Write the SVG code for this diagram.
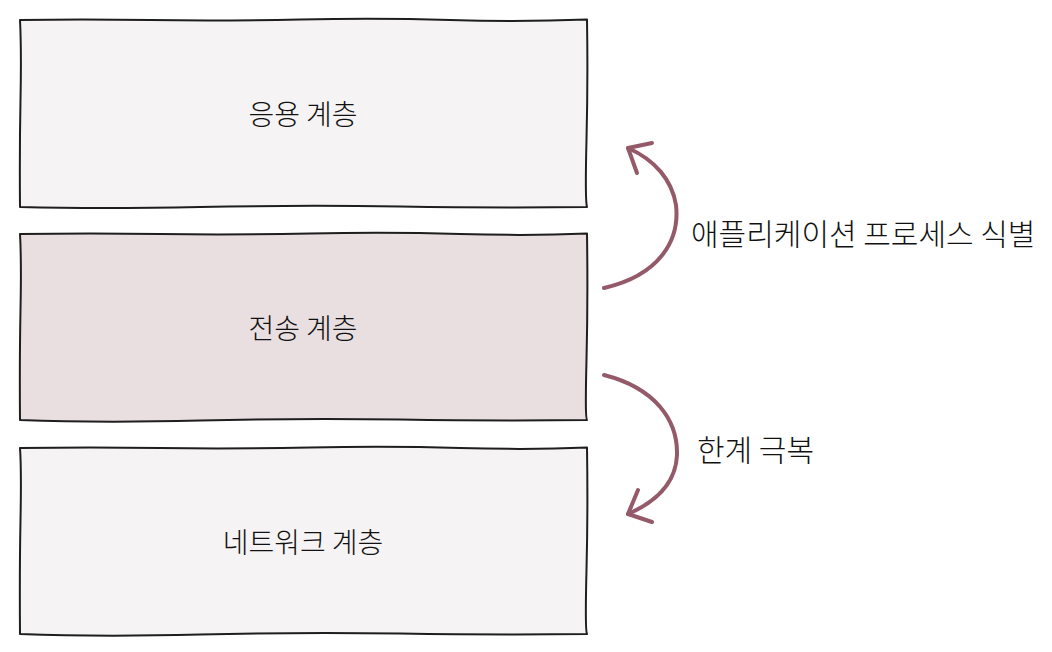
<svg xmlns="http://www.w3.org/2000/svg" width="1052" height="652" viewBox="0 0 1052 652">
<defs>
<style>
.box{stroke:#1e1e1e;stroke-width:2;stroke-linejoin:round}
.light{fill:#f5f3f4}
.mid{fill:#e9dfe1}
.lbl{font-family:"Noto Sans CJK KR","Noto Sans",sans-serif;font-size:28px;font-weight:300;fill:#111;text-anchor:middle;dominant-baseline:central}
.note{font-family:"Noto Sans CJK KR","Noto Sans",sans-serif;font-size:30px;font-weight:300;fill:#111;dominant-baseline:central}
.arr{fill:none;stroke:#955a69;stroke-width:4;stroke-linecap:round;stroke-linejoin:round}
</style>
</defs>
<rect width="1052" height="652" fill="#ffffff"/>
<g id="app-layer">
<path class="box light" d="M20,20 Q80,19 150,20 T300,19.5 T450,20 T587,19.5 Q588,80 586.5,140 T587,207 Q500,208 400,206.5 T200,207 T20,207 Q19.5,150 20.5,100 T20,20 Z"/>
<text class="lbl" x="303" y="113">응용 계층</text>
</g>
<g id="transport-layer">
<path class="box mid" d="M20,234 Q90,233 160,234 T310,233.5 T460,234 T587,233.5 Q588,300 586.5,360 T587,420 Q500,421 400,419.5 T200,420.5 T20,420 Q19.5,360 20.5,310 T20,234 Z"/>
<text class="lbl" x="303" y="327">전송 계층</text>
</g>
<g id="network-layer">
<path class="box light" d="M20,448 Q90,447 160,448 T310,447.5 T460,448 T587,447.5 Q588,510 586.5,570 T587,634 Q500,635 400,633.5 T200,634.5 T20,634 Q19.5,570 20.5,520 T20,448 Z"/>
<text class="lbl" x="303" y="541">네트워크 계층</text>
</g>
<g id="connectors">
<path class="arr" d="M604,288 C660,275 680,240 676,205 C672,180 655,160 628,148"/>
<path class="arr" d="M652,143 L628,148 L637,173"/>
<path class="arr" d="M604,375 C655,388 678,420 677,455 C676,480 660,500 628,514"/>
<path class="arr" d="M638,490 L628,514 L652,522"/>
</g>
<g id="labels">
<text class="note" x="691" y="232">애플리케이션 프로세스 식별</text>
<text class="note" x="697" y="448">한계 극복</text>
</g>
</svg>
